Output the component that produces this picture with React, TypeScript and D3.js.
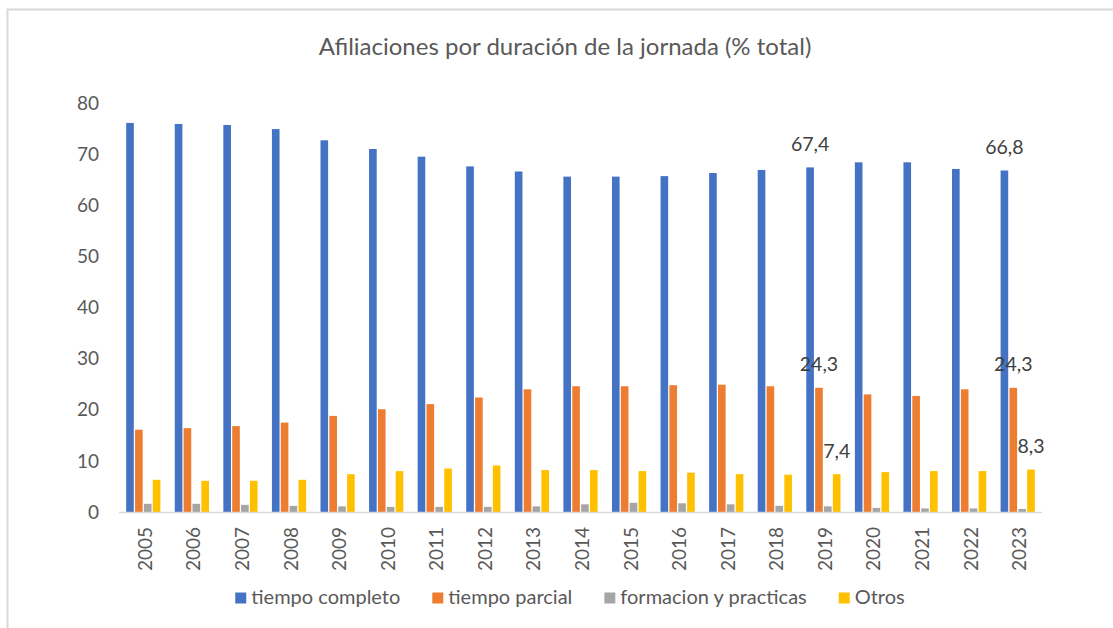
import React, { useEffect, useRef } from "react";
import * as d3 from "d3";

const years = ["2005","2006","2007","2008","2009","2010","2011","2012","2013","2014","2015","2016","2017","2018","2019","2020","2021","2022","2023"];
const seriesNames = ["tiempo completo", "tiempo parcial", "formacion y practicas", "Otros"];
const seriesColors = ["#4472C4", "#ED7D31", "#A5A5A5", "#FFC000"];
const tiempoCompleto = [76.1, 75.9, 75.7, 74.9, 72.7, 71.0, 69.5, 67.6, 66.6, 65.6, 65.6, 65.7, 66.3, 66.9, 67.4, 68.4, 68.4, 67.1, 66.8];
const tiempoParcial = [16.1, 16.4, 16.8, 17.5, 18.8, 20.1, 21.1, 22.4, 24.0, 24.6, 24.6, 24.8, 24.9, 24.6, 24.3, 23.0, 22.7, 24.0, 24.3];
const formacion = [1.6, 1.6, 1.4, 1.2, 1.1, 1.0, 1.0, 1.0, 1.1, 1.5, 1.8, 1.7, 1.5, 1.2, 1.1, 0.8, 0.7, 0.7, 0.6];
const otros = [6.3, 6.1, 6.1, 6.3, 7.4, 8.0, 8.5, 9.1, 8.2, 8.2, 8.0, 7.7, 7.4, 7.3, 7.4, 7.8, 8.0, 8.0, 8.3];
const yTicks = [0, 10, 20, 30, 40, 50, 60, 70, 80];
const labeledYears = ["2019", "2023"];
const labeledSeries = [0, 1, 3];
const title = "Afiliaciones por duración de la jornada (% total)";

const W = 1113, H = 628;
const FONT = "Lato, 'Open Sans', sans-serif";

export default function App() {
  const ref = useRef<SVGSVGElement>(null);
  useEffect(() => {
    const svg = d3.select(ref.current);
    svg.selectAll("*").remove();
    const values = [tiempoCompleto, tiempoParcial, formacion, otros];
    const left = 119, right = 1042, top = 103, bottom = 512;

    svg.append("rect").attr("x", 7.5).attr("y", 9.5).attr("width", W + 20).attr("height", H + 20)
      .attr("fill", "#fff").attr("stroke", "#d9d9d9").attr("stroke-width", 2);

    svg.append("text").attr("x", 565).attr("y", 55).attr("text-anchor", "middle")
      .attr("font-family", FONT).attr("font-size", 24).attr("fill", "#595959").text(title);

    const x = d3.scaleBand<string>().domain(years).range([left, right]).paddingInner(0.27).paddingOuter(0.135);
    const xs = d3.scaleBand<number>().domain(d3.range(seriesNames.length)).range([0, x.bandwidth()]);
    const y = d3.scaleLinear().domain([0, 80]).range([bottom, top]);

    const yAxis = svg.append("g");
    yAxis.selectAll("text").data(yTicks).join("text")
      .attr("x", 99).attr("y", d => y(d)).attr("dy", "0.35em").attr("text-anchor", "end")
      .attr("font-family", FONT).attr("font-size", 19).attr("fill", "#595959").text(d => d3.format("d")(d));

    const bw = xs.bandwidth() * 0.86;
    values.forEach((vals, si) => {
      svg.append("g").selectAll("rect").data(vals).join("rect")
        .attr("x", (_, i) => (x(years[i]) as number) + (xs(si) as number) + (xs.bandwidth() - bw) / 2)
        .attr("y", d => y(d)).attr("width", bw).attr("height", d => y(0) - y(d))
        .attr("fill", seriesColors[si]);
    });

    svg.append("line").attr("x1", left).attr("x2", right).attr("y1", bottom + 0.5).attr("y2", bottom + 0.5)
      .attr("stroke", "#d9d9d9").attr("stroke-width", 1.5);

    // data labels
    const fmt = (v: number) => d3.format(".1f")(v).replace(".", ",");
    labeledYears.forEach(yr => {
      const i = years.indexOf(yr);
      labeledSeries.forEach(si => {
        const v = values[si][i];
        svg.append("text")
          .attr("x", (x(yr) as number) + (xs(si) as number) + xs.bandwidth() / 2)
          .attr("y", y(v) - 16.5).attr("text-anchor", "middle")
          .attr("font-family", FONT).attr("font-size", 19.5).attr("fill", "#404040").text(fmt(v));
      });
    });

    // x labels
    svg.append("g").selectAll("text").data(years).join("text")
      .attr("transform", d => `translate(${(x(d) as number) + x.bandwidth() / 2 + 1},527) rotate(-90)`)
      .attr("text-anchor", "end").attr("dominant-baseline", "central")
      .attr("font-family", FONT).attr("font-size", 19).attr("fill", "#595959").text(d => d);

    // legend
    const lg = svg.append("g");
    const items = seriesNames.map((name, i) => {
      const g = lg.append("g");
      g.append("rect").attr("x", 0).attr("y", -11).attr("width", 11).attr("height", 11).attr("fill", seriesColors[i]);
      const t = g.append("text").attr("x", 16).attr("y", 0).attr("font-family", FONT).attr("font-size", 20)
        .attr("fill", "#595959").text(name);
      const w = (t.node() as SVGTextElement).getComputedTextLength();
      return { g, w: 16 + w };
    });
    const gap = 32;
    const total = d3.sum(items, d => d.w) + gap * (items.length - 1);
    let cx = 570 - total / 2;
    items.forEach(it => {
      it.g.attr("transform", `translate(${cx},603.5)`);
      cx += it.w + gap;
    });
  }, []);
  return (
    <svg ref={ref} width={W} height={H} style={{ position: "absolute", left: 0, top: 0, background: "#fff" }} />
  );
}
